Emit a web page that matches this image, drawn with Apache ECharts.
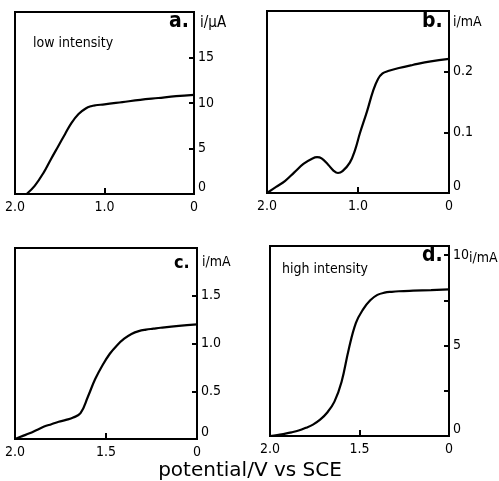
<!DOCTYPE html>
<html>
<head>
<meta charset="utf-8">
<script src="https://cdn.jsdelivr.net/npm/echarts@6/dist/echarts.min.js"></script>
<style>html,body{margin:0;padding:0;background:#fff;}#c{width:499px;height:481px;}</style>
</head>
<body>
<div id="c"></div>
<script>
// Panel a: low intensity, i / µA vs potential (V vs SCE)
const potA = [1.87, 1.78, 1.68, 1.6, 1.52, 1.44, 1.37, 1.29, 1.21, 1.15, 1.1, 1.0, 0.8, 0.6, 0.4, 0.2, 0.0];
const curA = [0, 0.9, 2.35, 3.8, 5.2, 6.6, 7.8, 8.8, 9.4, 9.65, 9.75, 9.85, 10.1, 10.35, 10.55, 10.75, 10.9];
// Panel b: i / mA
const potB = [2.0, 1.9, 1.8, 1.7, 1.6, 1.5, 1.45, 1.4, 1.33, 1.27, 1.22, 1.17, 1.09, 1.03, 0.98, 0.9, 0.835, 0.78, 0.73, 0.67, 0.55, 0.4, 0.2, 0.0];
const curB = [0, 0.01, 0.02, 0.034, 0.048, 0.057, 0.059, 0.057, 0.047, 0.037, 0.033, 0.036, 0.05, 0.072, 0.098, 0.135, 0.168, 0.188, 0.197, 0.201, 0.206, 0.211, 0.217, 0.221];
// Panel c: i / mA
const potC = [2.0, 1.96, 1.92, 1.88, 1.84, 1.80, 1.76, 1.72, 1.68, 1.64, 1.60, 1.56, 1.52, 1.48, 1.44, 1.40, 1.36, 1.32, 1.28, 1.24, 1.2, 1.1, 1.0];
const curC = [0, 0.03, 0.06, 0.095, 0.13, 0.155, 0.18, 0.2, 0.225, 0.27, 0.44, 0.625, 0.77, 0.89, 0.98, 1.05, 1.1, 1.13, 1.145, 1.155, 1.165, 1.185, 1.2];
// Panel d: high intensity, i / mA
const potD = [2.0, 1.96, 1.92, 1.88, 1.84, 1.80, 1.76, 1.72, 1.68, 1.64, 1.60, 1.56, 1.52, 1.48, 1.44, 1.40, 1.36, 1.32, 1.28, 1.2, 1.1, 1.0];
const curD = [0, 0.05, 0.12, 0.2, 0.3, 0.45, 0.63, 0.9, 1.3, 1.9, 3.0, 4.8, 6.25, 7.0, 7.5, 7.8, 7.92, 7.97, 8.0, 8.03, 8.06, 8.1];

// Tick labels
const xTicksAB = {2: '2.0', 1: '1.0', 0: '0'};
const xTicksCD = {2: '2.0', 1.5: '1.5', 1: '0'};
const yTicksA = {0: '0', 5: '5', 10: '10', 15: '15'};
const yTicksB = {0: '0', 0.1: '0.1', 0.2: '0.2'};
const yTicksC = {0: '0', 0.5: '0.5', 1: '1.0', 1.5: '1.5'};
const yTicksD = {0: '0', 5: '5', 10: '10'};

const panelLetters = ['a.', 'b.', 'c.', 'd.'];
const unitLabels = ['i/\u03bcA', 'i/mA', 'i/mA', 'i/mA'];
const notes = ['low intensity', 'high intensity'];
const xTitle = 'potential/V vs SCE';

const FONT = '"DejaVu Sans Condensed", "Liberation Sans Narrow", "DejaVu Sans", sans-serif';
const FONT_WIDE = '"DejaVu Sans", sans-serif';
const pick = (map) => (v) => {
  const k = Math.round(v * 1000) / 1000;
  return map[k] !== undefined ? map[k] : '';
};
const zip = (a, b) => a.map((x, i) => [x, b[i]]);

const grids = [
  {left: 15, top: 12, width: 179, height: 182},
  {left: 267, top: 11, width: 182, height: 182},
  {left: 15, top: 248, width: 182, height: 191},
  {left: 270, top: 246, width: 179, height: 190}
].map(g => Object.assign(g, {show: true, borderColor: '#000', borderWidth: 2, backgroundColor: 'transparent', containLabel: false, outerBoundsMode: 'none'}));

function xAxis(i, min, max, interval, map) {
  return {
    type: 'value', gridIndex: i, min: min, max: max, interval: interval, inverse: true,
    axisLine: {show: true, lineStyle: {color: '#000', width: 2}},
    axisTick: {show: true, inside: true, length: 6, lineStyle: {color: '#000', width: 2}},
    axisLabel: {color: '#000', fontSize: 14, fontFamily: FONT, margin: 6, formatter: pick(map)},
    splitLine: {show: false}
  };
}
function yAxis(i, max, interval, map) {
  return {
    type: 'value', gridIndex: i, min: 0, max: max, interval: interval, position: 'right',
    axisLine: {show: true, lineStyle: {color: '#000', width: 2}},
    axisTick: {show: true, inside: true, length: 5, lineStyle: {color: '#000', width: 2}},
    axisLabel: {color: '#000', fontSize: 14, fontFamily: FONT, margin: 4, formatter: pick(map), verticalAlignMinLabel: 'bottom'},
    splitLine: {show: false}
  };
}

const series = [[potA, curA], [potB, curB], [potC, curC], [potD, curD]].map((p, i) => ({
  type: 'line', xAxisIndex: i, yAxisIndex: i, data: zip(p[0], p[1]),
  smooth: 0.4, showSymbol: false, symbol: 'none',
  lineStyle: {color: '#000', width: 2.2}, animation: false
}));

function txt(x, y, s, size, bold, align, fam) {
  return {type: 'text', x: x, y: y, style: {text: s, fill: '#000', font: (bold ? 'bold ' : '') + size + 'px ' + (fam || FONT), textAlign: align || 'left', textVerticalAlign: 'middle'}};
}

const option = {
  backgroundColor: '#fff',
  animation: false,
  grid: grids,
  xAxis: [xAxis(0, 0, 2, 1, xTicksAB), xAxis(1, 0, 2, 1, xTicksAB), xAxis(2, 1, 2, 0.5, xTicksCD), xAxis(3, 1, 2, 0.5, xTicksCD)],
  yAxis: [yAxis(0, 20, 5, yTicksA), yAxis(1, 0.3, 0.1, yTicksB), yAxis(2, 2, 0.5, yTicksC), yAxis(3, 10.5, 2.5, yTicksD)],
  series: series,
  graphic: [
    txt(169, 22, panelLetters[0], 21, true),
    txt(422, 22, panelLetters[1], 21, true),
    txt(174, 263, panelLetters[2], 18, true),
    txt(422, 256, panelLetters[3], 21, true),
    txt(200, 23, unitLabels[0], 15),
    txt(453, 22, unitLabels[1], 14),
    txt(202, 262, unitLabels[2], 14),
    txt(469, 258, unitLabels[3], 14),
    txt(33, 43, notes[0], 14),
    txt(282, 269, notes[1], 14),
    txt(250, 471, xTitle, 20, false, 'center', FONT_WIDE)
  ]
};
echarts.init(document.getElementById('c'), null, {renderer: 'canvas'}).setOption(option);
</script>
</body>
</html>
